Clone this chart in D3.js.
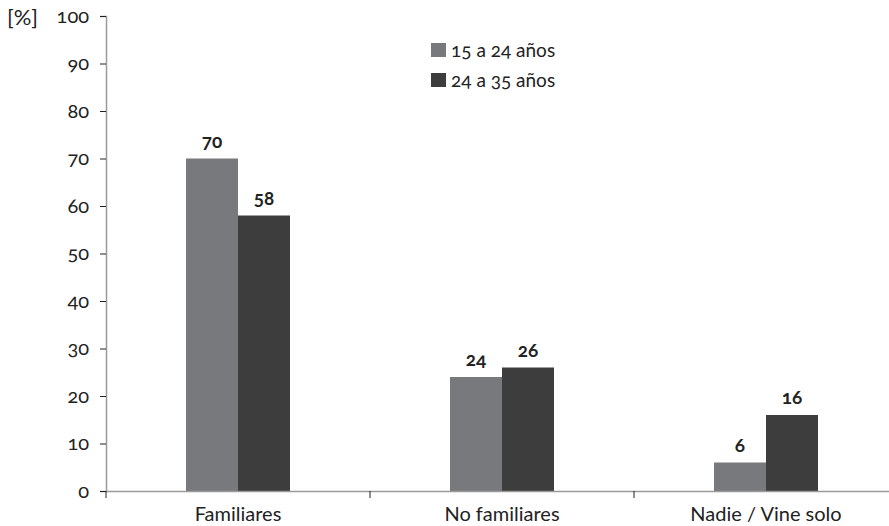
<!DOCTYPE html>
<html>
<head>
<meta charset="utf-8">
<script src="https://cdn.jsdelivr.net/npm/d3@7"></script>
<style>
  body { margin: 0; background: #fff; }
  svg { display: block; }
  svg text { font-family: "Lato", "Open Sans", sans-serif; font-variant-numeric: oldstyle-nums; font-feature-settings: "onum" 1; }
</style>
</head>
<body>
<svg id="chart" width="889" height="526"></svg>
<script>
// Data
const categories = ["Familiares", "No familiares", "Nadie / Vine solo"];
const seriesNames = ["15 a 24 años", "24 a 35 años"];
const youngValues = [70, 24, 6];
const olderValues = [58, 26, 16];
const yTicks = [0, 10, 20, 30, 40, 50, 60, 70, 80, 90, 100];
const colors = ["#78797c", "#3d3d3d"];

const rows = categories.map((c, i) => ({ cat: c, vals: [youngValues[i], olderValues[i]] }));

const svg = d3.select("#chart");
const plotLeft = 106, plotTop = 16, plotBottom = 491, bandW = 264;
const textColor = "#222";

const y = d3.scaleLinear().domain([0, 100]).range([plotBottom, plotTop]);
const x = d3.scaleBand().domain(categories).range([plotLeft, plotLeft + bandW * categories.length]).padding(0);
const inner = d3.scaleBand().domain([0, 1]).range([x.bandwidth() / 2 - 52, x.bandwidth() / 2 + 52]).padding(0);

// Bars with value labels
const g = svg.append("g");
rows.forEach(r => {
  const gg = g.append("g").attr("transform", `translate(${x(r.cat)},0)`);
  gg.selectAll("rect").data(r.vals).join("rect")
    .attr("x", (d, i) => inner(i))
    .attr("y", d => y(d))
    .attr("width", inner.bandwidth())
    .attr("height", d => y(0) - y(d))
    .attr("fill", (d, i) => colors[i]);
  gg.selectAll("text").data(r.vals).join("text")
    .attr("x", (d, i) => inner(i) + inner.bandwidth() / 2)
    .attr("y", d => y(d) - 11)
    .attr("text-anchor", "middle")
    .attr("font-size", 19)
    .attr("font-weight", "bold")
    .attr("fill", textColor)
    .text(d => d);
});

// Y axis
const yAxis = svg.append("g").attr("transform", `translate(${plotLeft},0)`)
  .call(d3.axisLeft(y).tickValues(yTicks).tickSize(6).tickPadding(11));
yAxis.select(".domain").attr("stroke", "#9a9a9a").attr("stroke-width", 1.5);
yAxis.selectAll(".tick line").attr("stroke", textColor);
yAxis.selectAll(".tick text").attr("font-size", 20).attr("fill", textColor)
  .attr("font-family", null);

// X axis
const xAxis = svg.append("g").attr("transform", `translate(0,${plotBottom})`)
  .call(d3.axisBottom(x).tickSize(0).tickPadding(14));
xAxis.select(".domain").attr("stroke", "#9a9a9a").attr("stroke-width", 1.5);
xAxis.selectAll(".tick text").attr("font-size", 20).attr("fill", textColor)
  .attr("font-family", null).attr("dy", "0.78em");

// Category separators below the x axis
svg.append("g").selectAll("line").data(categories.map(c => x(c))).join("line")
  .attr("x1", d => d).attr("x2", d => d)
  .attr("y1", plotBottom).attr("y2", plotBottom + 7)
  .attr("stroke", textColor);

// Unit label
svg.append("text").attr("x", 7).attr("y", 25)
  .attr("font-size", 22).attr("fill", textColor).text("[%]");

// Legend
const leg = svg.append("g").attr("transform", "translate(431,43)");
seriesNames.forEach((s, i) => {
  const row = leg.append("g").attr("transform", `translate(0,${i * 30})`);
  row.append("rect").attr("width", 15).attr("height", 14).attr("fill", colors[i]);
  row.append("text").attr("x", 20).attr("y", 14).attr("font-size", 19).attr("fill", textColor).text(s);
});
</script>
</body>
</html>
